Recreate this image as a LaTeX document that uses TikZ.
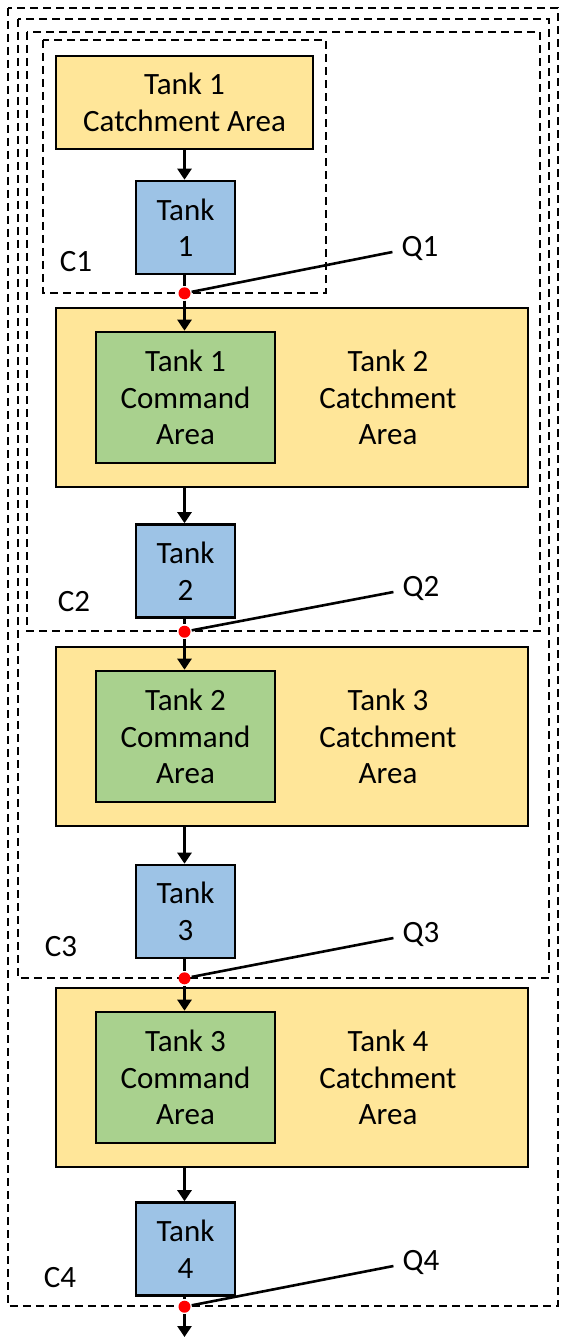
\documentclass[tikz,border=0pt]{standalone}
\usepackage{fontspec}
\setmainfont{Carlito}
\usetikzlibrary{arrows.meta,positioning}
\definecolor{catchyellow}{HTML}{FFE699}
\definecolor{tankblue}{HTML}{9DC3E6}
\definecolor{cmdgreen}{HTML}{A9D18E}

\begin{document}
\begin{tikzpicture}[x=1pt, y=-1pt, line width=2.6pt,
  >={Triangle[length=11pt,width=14pt]},
  every node/.style={font=\fontsize{31}{36.5}\selectfont, inner sep=0pt, align=center},
  catch/.style={draw, fill=catchyellow, minimum width=472pt, minimum height=179pt},
  cmd/.style={draw, fill=cmdgreen, minimum width=179pt, minimum height=131pt},
  tank/.style={draw, fill=tankblue, minimum width=99pt, minimum height=93pt},
  qdot/.style={circle, fill=red, minimum size=12pt},
  cline/.style={dash pattern=on 8pt off 5pt}]
  \useasboundingbox (0,0) rectangle (560,1337);

  % Draw nested contribution areas
  \draw[cline] (8,8) rectangle (558,1306);
  \draw[cline] (18,19) rectangle (549,978);
  \draw[cline] (27,32) rectangle (540,631);
  \draw[cline] (43,40) rectangle (326,293);
  \node (c1) at (76,262) {C1};
  \node (c2) at (74,602) {C2};
  \node (c3) at (61,947) {C3};
  \node (c4) at (60,1278) {C4};

  % Draw first tank
  \node[catch, minimum width=257pt, minimum height=93pt] (catch1) at (184.5,102.5) {Tank 1\\Catchment Area};
  \node[tank] (tank1) at (185.5,227.5) {Tank\\1};
  \node[qdot] (dot1) at (184.5,293.3) {};
  \node (q1) at (420,248) {Q1};
  \draw[->] (catch1) -- (dot1 |- tank1.north);
  \draw (dot1 |- tank1.south) -- (dot1);
  \draw (dot1) -- ([shift={(-8,4)}]q1.west);

  % Draw remaining tanks
  \foreach \i/\prev/\yc/\yt/\yd/\yq in {2/1/397.5/571/631.7/588, 3/2/736.5/911.5/978.3/934, 4/3/1077.5/1249/1306.7/1262} {
    \node[catch] (catch\i) at (292,\yc) {};
    \node[cmd] (cmd\i) at (185.5,\yc) {Tank \prev\\Command\\Area};
    \node (catchlbl\i) at (388,\yc) {Tank \i\\Catchment\\Area};
    \node[tank] (tank\i) at (185.5,\yt) {Tank\\\i};
    \node[qdot] (dot\i) at (184.5,\yd) {};
    \node (q\i) at (421,\yq) {Q\i};
    \draw[->] (dot\prev) -- (dot\prev |- cmd\i.north);
    \draw[->] (dot\i |- catch\i.south) -- (dot\i |- tank\i.north);
    \draw (dot\i |- tank\i.south) -- (dot\i);
    \draw (dot\i) -- ([shift={(-8,4)}]q\i.west);
  }

  % Outflow
  \coordinate (out) at (184.5,1337);
  \draw[->] (dot4) -- (out);
\end{tikzpicture}
\end{document}
